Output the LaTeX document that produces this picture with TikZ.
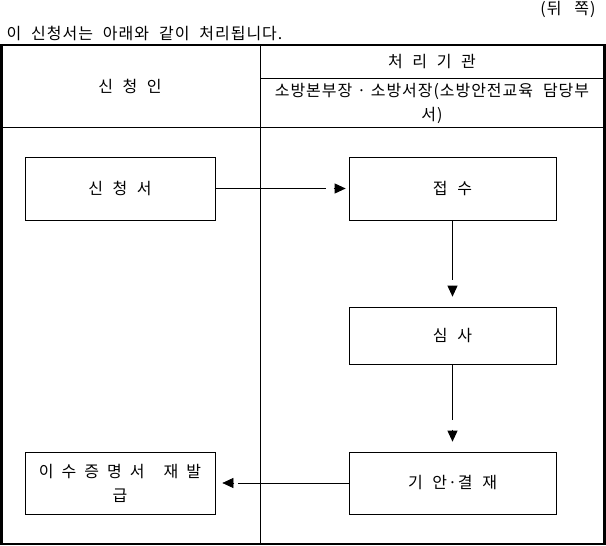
\documentclass[tikz,border=0pt]{standalone}
\usepackage{fontspec}
\setmainfont[WordSpace=2.2,LetterSpace=6]{Noto Sans CJK KR}
\usepackage{tikz}
\usetikzlibrary{arrows.meta,positioning}

\begin{document}
\begin{tikzpicture}[x=1pt,y=-1pt,font=\fontsize{16}{24}\selectfont,
    box/.style={draw,line width=0.7pt,inner sep=0pt,align=center},
    link/.style={line width=0.7pt},
    tip/.style={line width=0.7pt,-{Triangle[length=11pt,width=10pt]}}]
      \useasboundingbox (0,0) rectangle (606,546);

      \path
      (599,9) node[anchor=east](side) {(뒤\hspace{0.8em}쪽)}
      (3,33) node[anchor=west](title) {이 신청서는 아래와 같이 처리됩니다.}
      (130,86) node(who) {신\hspace{0.6em}청\hspace{0.6em}인}
      (432,62) node(org) {처\hspace{0.6em}리\hspace{0.6em}기\hspace{0.6em}관}
      (432,103) node[align=center](dept)
        {소방본부장\hspace{0.3em}·\hspace{0.3em}소방서장(소방안전교육 담당부\\서)}
      ;

      % table
      \draw[line width=2.5pt] (1.25,45) rectangle (604.5,544);
      \draw[line width=0.7pt] (260,45) -- (260,544);
      \draw[line width=0.7pt] (260,78) -- (604,78);
      \draw[line width=0.7pt] (0,127) -- (604,127);

      \path
      (120,188.5) node[box,minimum width=190pt,minimum height=63pt](form) {신\hspace{0.6em}청\hspace{0.6em}서}
      (452.5,188.5) node[box,minimum width=207pt,minimum height=63pt](recv) {접\hspace{0.6em}수}
      (452.5,335.5) node[box,minimum width=207pt,minimum height=57pt](check) {심\hspace{0.6em}사}
      (452.5,483) node[box,minimum width=207pt,minimum height=62pt](approve) {기\hspace{0.6em}안·결\hspace{0.6em}재}
      (120,483) node[box,minimum width=190pt,minimum height=62pt](reissue)
        {이\hspace{0.5em}수\hspace{0.5em}증\hspace{0.5em}명\hspace{0.5em}서\hspace{1.2em}재\hspace{0.5em}발\\급}
      ;

      % arrows: line, small gap, then the head
      \draw[link] (form) -- ([xshift=-23pt]recv.west);
      \draw[tip] ([xshift=-15pt]recv.west) -- ([xshift=-3pt]recv.west);
      \draw[link] (recv) -- ([yshift=27pt]check.north);
      \draw[tip] ([yshift=21pt]check.north) -- ([yshift=10pt]check.north);
      \draw[link] (check) -- ([yshift=32pt]approve.north);
      \draw[tip] ([yshift=22pt]approve.north) -- ([yshift=10pt]approve.north);
      \draw[link] (approve) -- ([xshift=23pt]reissue.east);
      \draw[tip] ([xshift=19pt]reissue.east) -- ([xshift=7pt]reissue.east);
\end{tikzpicture}
\end{document}
